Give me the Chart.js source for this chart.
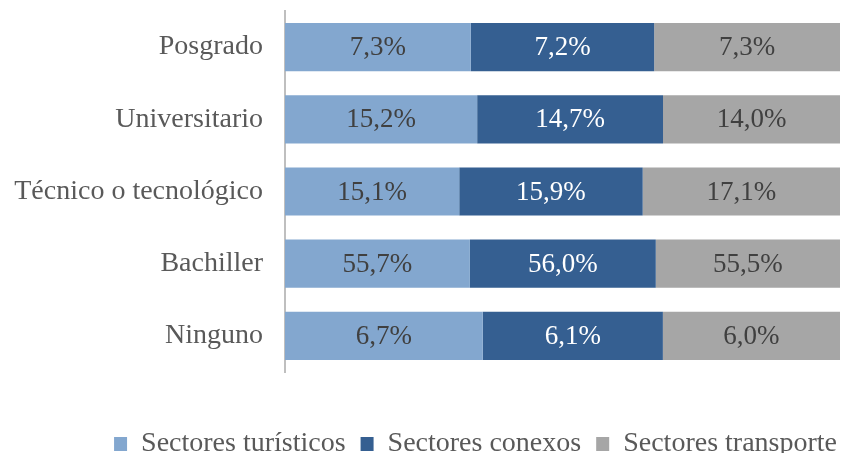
<!DOCTYPE html>
<html>
<head>
<meta charset="utf-8">
<script src="https://cdn.jsdelivr.net/npm/chart.js@4/dist/chart.umd.min.js"></script>
<style>
  html, body { margin: 0; padding: 0; background: #fff; }
  #wrap { width: 852px; height: 453px; }
</style>
</head>
<body>
<div id="wrap"><canvas id="myChart" width="852" height="453"></canvas></div>
<script>
// nivel educativo por sector
const categories = ['Posgrado', 'Universitario', 'Técnico o tecnológico', 'Bachiller', 'Ninguno'];
const turisticos = [7.3, 15.2, 15.1, 55.7, 6.7];
const conexos = [7.2, 14.7, 15.9, 56.0, 6.1];
const transporte = [7.3, 14.0, 17.1, 55.5, 6.0];

const seriesNames = ['Sectores turísticos', 'Sectores conexos', 'Sectores transporte'];
const seriesColors = ['#83A7CF', '#355F91', '#A6A6A6'];
const labelColors = ['#404040', '#FFFFFF', '#404040'];

const raw = [turisticos, conexos, transporte];
// each row is shown as 100% of its own sum
const rowSums = categories.map((c, i) => raw.reduce((s, arr) => s + arr[i], 0));
const share = arr => arr.map((v, i) => v / rowSums[i] * 100);

const fontFamily = '"Liberation Serif", "Times New Roman", serif';

const valueLabels = {
    id: 'valueLabels',
    afterDatasetsDraw(chart) {
        const ctx = chart.ctx;
        ctx.save();
        ctx.font = '27px ' + fontFamily;
        ctx.textAlign = 'center';
        ctx.textBaseline = 'middle';
        chart.data.datasets.forEach((ds, di) => {
            const meta = chart.getDatasetMeta(di);
            meta.data.forEach((bar, i) => {
                const txt = raw[di][i].toFixed(1).replace('.', ',') + '%';
                ctx.fillStyle = labelColors[di];
                ctx.fillText(txt, (bar.x + bar.base) / 2, bar.y + 1);
            });
        });
        ctx.restore();
    }
};

// pull the legend a bit closer to the bottom edge
const legendNudge = {
    id: 'legendNudge',
    beforeLayout(chart) {
        const lg = chart.legend;
        if (lg && !lg._nudged) {
            const fit = lg.fit.bind(lg);
            lg.fit = function () { fit(); this.height -= 15; };
            lg._nudged = true;
        }
    }
};

const ctx = document.getElementById('myChart').getContext('2d');
new Chart(ctx, {
    type: 'bar',
    data: {
        labels: categories,
        datasets: raw.map((arr, k) => ({
            label: seriesNames[k],
            data: share(arr),
            backgroundColor: seriesColors[k],
            borderWidth: 0,
            barPercentage: 0.667,
            categoryPercentage: 1
        }))
    },
    options: {
        indexAxis: 'y',
        responsive: false,
        animation: false,
        layout: { padding: { left: 0, right: 0, top: 11, bottom: 0 } },
        scales: {
            x: {
                stacked: true,
                min: 0,
                max: 100,
                grid: { display: false },
                border: { display: false },
                ticks: { display: false },
                afterFit(scale) { scale.height = 43; }
            },
            y: {
                stacked: true,
                grid: { display: false, drawTicks: false },
                border: { display: true, color: '#BFBFBF', width: 2 },
                ticks: {
                    color: '#595959',
                    padding: 22,
                    font: { family: fontFamily, size: 28 }
                },
                afterFit(scale) {
                    scale.width = 285;
                    scale.paddingTop = 0;
                    scale.paddingBottom = 0;
                }
            },
            yRight: {
                type: 'category',
                position: 'right',
                grid: { display: false },
                border: { display: false },
                ticks: { display: false },
                afterFit(scale) { scale.width = 12; }
            }
        },
        plugins: {
            legend: {
                position: 'bottom',
                align: 'end',
                labels: {
                    color: '#595959',
                    boxWidth: 13,
                    boxHeight: 14,
                    padding: 15,
                    font: { family: fontFamily, size: 28 }
                }
            },
            tooltip: { enabled: false }
        }
    },
    plugins: [valueLabels, legendNudge]
});
</script>
</body>
</html>
